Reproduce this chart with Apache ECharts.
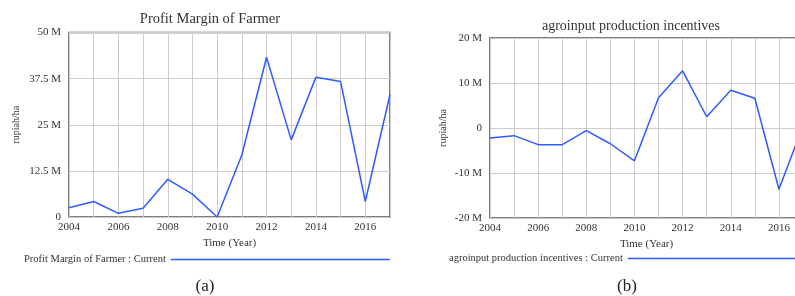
<!DOCTYPE html>
<html>
<head>
<meta charset="utf-8">
<script src="https://cdn.jsdelivr.net/npm/echarts@6/dist/echarts.min.js"></script>
<style>
  html, body { margin: 0; padding: 0; background: #fff; }
  #chart { width: 795px; height: 296px; }
</style>
</head>
<body>
<div id="chart"></div>
<script>
// years on the x axis
let years = [2004, 2005, 2006, 2007, 2008, 2009, 2010, 2011, 2012, 2013, 2014, 2015, 2016, 2017];
// values in millions of rupiah/ha
let profitMargin = [2.5, 4.2, 1.0, 2.4, 10.2, 6.2, 0.0, 16.8, 43.3, 20.9, 37.9, 36.7, 4.2, 33.2];
let incentives = [-2.2, -1.7, -3.7, -3.7, -0.6, -3.5, -7.3, 6.7, 12.7, 2.5, 8.4, 6.6, -13.6, 0.5];

let serif = 'Liberation Serif';
let blue = '#2f5cff';

function pairs(vals) {
    let out = [];
    for (let i = 0; i < years.length; i++) out.push([years[i], vals[i]]);
    return out;
}
function mLabel(v) {
    return v === 0 ? '0' : v + ' M';
}
function yearLabel(v) {
    return v % 2 === 0 ? String(v) : '';
}

let xAxisBase = {
    type: 'value', min: 2004, max: 2017, interval: 1,
    name: 'Time (Year)', nameLocation: 'middle', nameGap: 18,
    nameTextStyle: { fontFamily: serif, fontSize: 11, color: '#333' },
    axisLine: { show: false }, axisTick: { show: false },
    axisLabel: { formatter: yearLabel, fontFamily: serif, fontSize: 11, color: '#333', margin: 5 },
    splitLine: { lineStyle: { color: '#cccccc', width: 1 } }
};
let yAxisBase = {
    type: 'value', name: 'rupiah/ha', nameLocation: 'middle',
    nameTextStyle: { fontFamily: serif, fontSize: 10, color: '#333' },
    axisLine: { show: false }, axisTick: { show: false },
    axisLabel: { formatter: mLabel, fontFamily: serif, fontSize: 11, color: '#333', margin: 8 },
    splitLine: { lineStyle: { color: '#cccccc', width: 1 } }
};

let option = {
    animation: false,
    backgroundColor: '#fff',
    title: [
        { text: 'Profit Margin of Farmer', left: 205, top: 7, textAlign: 'center',
          textStyle: { fontFamily: serif, fontSize: 14.5, fontWeight: 'normal', color: '#333' } },
        { text: 'agroinput production incentives', left: 626, top: 14, textAlign: 'center',
          textStyle: { fontFamily: serif, fontSize: 14, fontWeight: 'normal', color: '#333' } },
        { text: '(a)', left: 200, top: 273, textAlign: 'center',
          textStyle: { fontFamily: serif, fontSize: 17, fontWeight: 'normal', color: '#222' } },
        { text: '(b)', left: 622, top: 273, textAlign: 'center',
          textStyle: { fontFamily: serif, fontSize: 17, fontWeight: 'normal', color: '#222' } }
    ],
    legend: [
        { data: ['Profit Margin of Farmer : Current'], left: 19, top: 249, align: 'right',
          icon: 'rect', itemWidth: 219, itemHeight: 1.5,
          textStyle: { fontFamily: serif, fontSize: 10.5, color: '#333' } },
        { data: ['agroinput production incentives : Current'], left: 444, top: 248, align: 'right',
          icon: 'rect', itemWidth: 180, itemHeight: 1.5,
          textStyle: { fontFamily: serif, fontSize: 10.5, color: '#333' } }
    ],
    grid: [
        { left: 69, top: 32.5, width: 321, height: 184.5, show: true,
          borderColor: '#555', borderWidth: 1.5, outerBoundsMode: 'none' },
        { left: 490, top: 38, width: 313, height: 180, show: true,
          borderColor: '#555', borderWidth: 1.5, outerBoundsMode: 'none' }
    ],
    xAxis: [
        Object.assign({}, xAxisBase, { gridIndex: 0 }),
        Object.assign({}, xAxisBase, { gridIndex: 1 })
    ],
    yAxis: [
        Object.assign({}, yAxisBase, { gridIndex: 0, min: 0, max: 50, interval: 12.5, nameGap: 48 }),
        Object.assign({}, yAxisBase, { gridIndex: 1, min: -20, max: 20, interval: 10, nameGap: 42 })
    ],
    series: [
        { name: 'Profit Margin of Farmer : Current', type: 'line', xAxisIndex: 0, yAxisIndex: 0,
          data: pairs(profitMargin), showSymbol: false, color: blue,
          lineStyle: { width: 1.5, color: blue } },
        { name: 'agroinput production incentives : Current', type: 'line', xAxisIndex: 1, yAxisIndex: 1,
          data: pairs(incentives), showSymbol: false, color: blue,
          lineStyle: { width: 1.5, color: blue } }
    ]
};

let myChart = echarts.init(document.getElementById('chart'));
myChart.setOption(option);
</script>
</body>
</html>
